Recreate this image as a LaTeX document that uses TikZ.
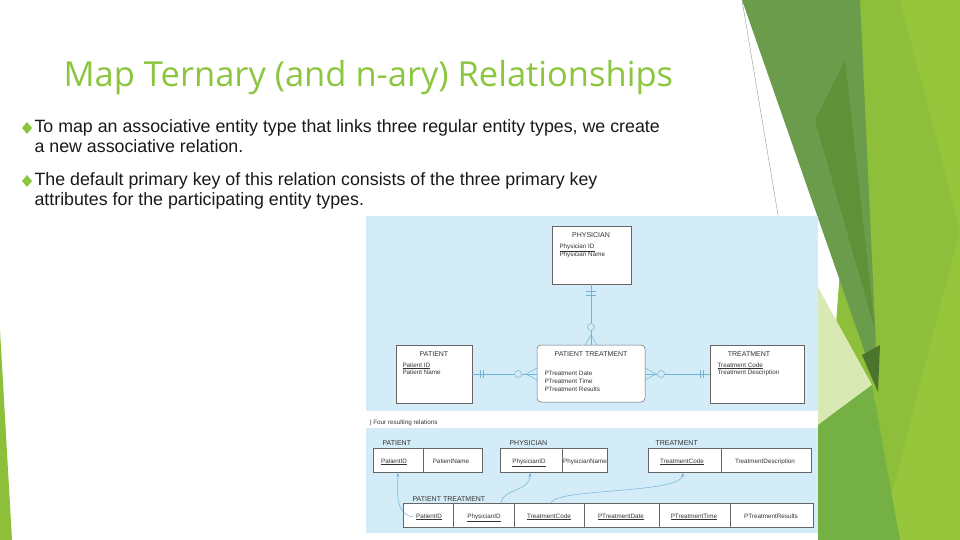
\documentclass[tikz,border=0pt]{standalone}
\usepackage{fontspec}
\setmainfont{Liberation Sans}
\newfontfamily\titlefont{Open Sans}
\usetikzlibrary{arrows.meta}
\definecolor{tgreen}{HTML}{8CC63E}
\definecolor{lblue}{HTML}{D3ECF8}
\definecolor{lnblue}{HTML}{6FB3D6}
\definecolor{gA}{HTML}{6A9C4C}
\definecolor{gB}{HTML}{8DBF3A}
\definecolor{gC}{HTML}{97C63D}
\definecolor{gD}{HTML}{74B044}
\definecolor{gE}{HTML}{D8E9B4}
\definecolor{gF}{HTML}{5E9138}
\tikzset{
  ent/.style={draw=black!60, fill=white, line width=0.5pt},
  etitle/.style={font=\fontsize{7}{8}\selectfont, text=black!80},
  attr/.style={font=\fontsize{6.3}{7.6}\selectfont, text=black!80, anchor=north west, align=left},
  rel/.style={draw=black!60, fill=white, line width=0.5pt},
  rlab/.style={font=\fontsize{7}{8}\selectfont, text=black!80, anchor=base west},
  cell/.style={font=\fontsize{6.3}{7}\selectfont, text=black!80, anchor=base},
  conn/.style={draw=lnblue, line width=0.5pt},
  fk/.style={draw=lnblue, line width=0.5pt, -{Stealth[length=4pt,width=3pt]}},
  bodytext/.style={font=\fontsize{17.8}{20.5}\selectfont, anchor=north west, align=left, text=black!90},
}
\begin{document}
\begin{tikzpicture}[x=1pt,y=-1pt]
\useasboundingbox (0,0) rectangle (960,540);
\fill[white] (0,0) rectangle (960,540);
% right decoration
\fill[gB] (860,0) -- (960,0) -- (960,540) -- (820,540) -- cycle;
\fill[gC] (900,0) -- (960,0) -- (960,540) -- (880,540) -- (960,230) -- cycle;
\fill[gA] (742,0) -- (860,0) -- (878,390) -- cycle;
\fill[gF] (815,120) -- (845,60) -- (875,330) -- cycle;
\fill[gE] (778,215) -- (872,385) -- (818,425) -- cycle;
\fill[gD] (818,425) -- (872,385) -- (900,540) -- (818,540) -- cycle;
\fill[gF!80!black] (862,355) -- (880,345) -- (878,392) -- cycle;
\draw[black!50, line width=0.3pt] (742,0) -- (778,215);
% left sliver
\fill[gB] (0,330) -- (12,540) -- (0,540) -- cycle;
% title
\node[anchor=base west, text=tgreen, font=\titlefont\fontsize{34.5}{40}\selectfont] (title) at (60,87) {Map Ternary (and n-ary) Relationships};
% bullets
\fill[tgreen] (27,122) -- (32,128) -- (27,134) -- (22,128) -- cycle;
\fill[tgreen] (27,175) -- (32,181) -- (27,187) -- (22,181) -- cycle;
\node[bodytext] (b1) at (31,116) {To map an associative entity type that links three regular entity types, we create\\a new associative relation.};
\node[bodytext] (b2) at (31,169) {The default primary key of this relation consists of the three primary key\\attributes for the participating entity types.};
% diagram background
\fill[lblue] (366,216) rectangle (818,533);
\fill[white] (366,411) rectangle (818,428);
\node[anchor=base west, font=\fontsize{6.3}{7}\selectfont, text=black!80] (cap) at (366,424) {) Four resulting relations};
% ER entities
\draw[ent] (552,226) rectangle (631,284);
\node[etitle] (phy) at (591,235) {PHYSICIAN};
\node[attr] (phya) at (556,240) {\underline{Physician ID}\\Physician Name};
\draw[ent] (396,345) rectangle (472,403);
\node[etitle] (pat) at (434,354) {PATIENT};
\node[attr] (pata) at (399,359) {\underline{Patient ID}\\Patient Name};
\draw[ent, rounded corners=4pt] (537,345) rectangle (645,402);
\node[etitle] (pt) at (591,354) {PATIENT TREATMENT};
\node[attr] (pta) at (541,368) {PTreatment Date\\PTreatment Time\\PTreatment Results};
\draw[ent] (710,345) rectangle (804,403);
\node[etitle] (tr) at (749,354) {TREATMENT};
\node[attr] (tra) at (714,359) {\underline{Treatment Code}\\Treatment Description};
% ER connectors
\coordinate (phyB) at (591,284); \coordinate (ptT) at (591,345);
\coordinate (patR) at (472,374); \coordinate (ptL) at (537,374);
\coordinate (ptR) at (645,374); \coordinate (trL) at (710,374);
\draw[conn] (phyB) -- (591,323); \draw[conn] (591,331) -- (ptT);
\draw[conn] (586,291) -- (596,291); \draw[conn] (586,295) -- (596,295);
\draw[conn] (591,327) circle (3.5);
\draw[conn] (585,345) -- (591,335) -- (597,345);
\draw[conn] (patR) -- (514,374); \draw[conn] (522,374) -- (ptL);
\draw[conn] (480,370) -- (480,378); \draw[conn] (483,370) -- (483,378);
\draw[conn] (518,374) circle (3.5);
\draw[conn] (537,368) -- (526,374) -- (537,380);
\draw[conn] (ptR) -- (657,374); \draw[conn] (665,374) -- (trL);
\draw[conn] (661,374) circle (3.5);
\draw[conn] (645,368) -- (656,374) -- (645,380);
\draw[conn] (700,370) -- (700,378); \draw[conn] (703,370) -- (703,378);
% relations
\node[rlab] (rpat) at (379,445) {PATIENT};
\draw[rel] (373,448) rectangle (482,472); \draw[rel] (423,448) -- (423,472);
\node[cell] (c1) at (394,463) {\underline{PatientID}};
\node[cell] (c2) at (451,463) {PatientName};
\node[rlab] (rphy) at (506,445) {PHYSICIAN};
\draw[rel] (500,448) rectangle (607,472); \draw[rel] (562,448) -- (562,472);
\node[cell] (c3) at (529,463) {\underline{PhysicianID}};
\node[cell] (c4) at (585,463) {PhysicianName};
\node[rlab] (rtr) at (652,445) {TREATMENT};
\draw[rel] (648,448) rectangle (811,472); \draw[rel] (721,448) -- (721,472);
\node[cell] (c5) at (682,463) {\underline{TreatmentCode}};
\node[cell] (c6) at (765,463) {TreatmentDescription};
\node[rlab] (rpt) at (409,501) {PATIENT TREATMENT};
\draw[rel] (403,503) rectangle (813,527);
\foreach \x in {453,514,584,659,730} \draw[rel] (\x,503) -- (\x,527);
\node[cell] (d1) at (429,518) {\underline{PatientID}};
\node[cell] (d2) at (484,518) {\underline{PhysicianID}};
\node[cell] (d3) at (549,518) {\underline{TreatmentCode}};
\node[cell] (d4) at (621,518) {\underline{PTreatmentDate}};
\node[cell] (d5) at (694,518) {\underline{PTreatmentTime}};
\node[cell] (d6) at (771,518) {PTreatmentResults};
% foreign key arrows
\draw[fk] (d1.west) .. controls (396,514) and (397,495) .. (398,473);
\draw[fk] (501,503) .. controls (503,488) and (530,492) .. (530,473);
\draw[fk] (551,503) .. controls (555,488) and (680,494) .. (683,473);
\end{tikzpicture}
\end{document}
